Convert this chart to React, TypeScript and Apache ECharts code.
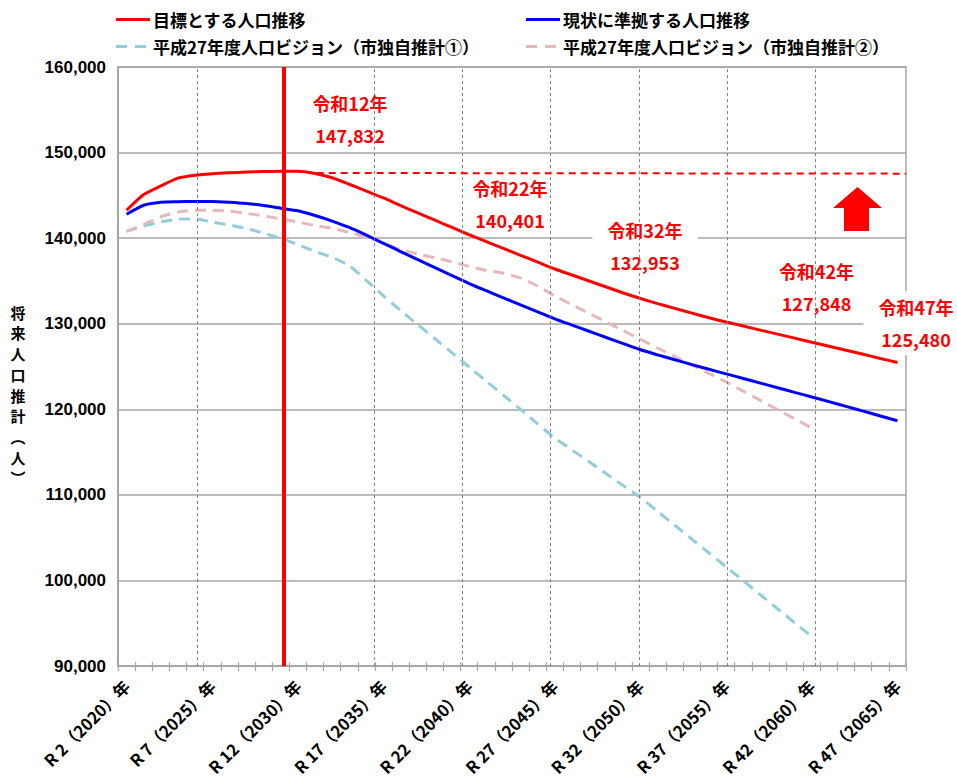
import React, { useEffect, useRef } from 'react';
import * as echarts from 'echarts';

const years = [
  '2020', '2021', '2022', '2023', '2024', '2025', '2026', '2027', '2028', '2029',
  '2030', '2031', '2032', '2033', '2034', '2035', '2036', '2037', '2038', '2039',
  '2040', '2041', '2042', '2043', '2044', '2045', '2046', '2047', '2048', '2049',
  '2050', '2051', '2052', '2053', '2054', '2055', '2056', '2057', '2058', '2059',
  '2060', '2061', '2062', '2063', '2064', '2065',
];

const tickLabels = [
  'R 2（2020）年', 'R 7（2025）年', 'R 12（2030）年', 'R 17（2035）年', 'R 22（2040）年',
  'R 27（2045）年', 'R 32（2050）年', 'R 37（2055）年', 'R 42（2060）年', 'R 47（2065）年',
];

const seriesNames = [
  '目標とする人口推移',
  '現状に準拠する人口推移',
  '平成27年度人口ビジョン（市独自推計①）',
  '平成27年度人口ビジョン（市独自推計②）',
];

// 目標とする人口推移
const targetPop = [
  143260, 145100, 146100, 147010, 147360, 147540, 147650, 147720, 147780, 147810,
  147832, 147560, 147060, 146300, 145500, 144700, 143800, 142950, 142100, 141250,
  140401, 139600, 138800, 138000, 137200, 136400, 135700, 135000, 134300, 133600,
  132953, 132350, 131800, 131250, 130700, 130200, 129730, 129260, 128790, 128320,
  127848, 127380, 126900, 126430, 125950, 125480,
];

// 現状に準拠する人口推移
const currentPop = [
  142800, 143850, 144200, 144260, 144280, 144300, 144200, 144050, 143820, 143500,
  143200, 142650, 142000, 141250, 140350, 139400, 138440, 137500, 136560, 135620,
  134700, 133860, 133030, 132200, 131380, 130580, 129850, 129130, 128400, 127680,
  126960, 126370, 125800, 125230, 124680, 124150, 123610, 123070, 122530, 121990,
  121450, 120900, 120350, 119790, 119230, 118670,
];

// 平成27年度人口ビジョン（市独自推計①）
const vision1 = [
  140800, 141400, 141900, 142220, 142250, 141870, 141540, 141130, 140580, 139990,
  139250, 138440, 137770, 136780, 135050, 133250, 131550, 129900, 128250, 126600,
  124950, 123300, 121650, 120000, 118300, 116650, 115260, 113870, 112480, 111090,
  109700, 108080, 106460, 104840, 103220, 101600, 99970, 98340, 96700, 95070,
  93450, null, null, null, null, null,
];

// 平成27年度人口ビジョン（市独自推計②）
const vision2 = [
  140800, 141600, 142500, 143050, 143250, 143250, 143150, 142900, 142600, 142260,
  141880, 141470, 141150, 140690, 140100, 139400, 138650, 138150, 137700, 137250,
  136700, 136250, 135900, 135350, 134400, 133250, 132230, 131220, 130200, 129190,
  128180, 127170, 126180, 125180, 124190, 123200, 122130, 121050, 119970, 118900,
  117820, null, null, null, null, null,
];

const annotationTexts = [
  ['令和12年', '147,832'],
  ['令和22年', '140,401'],
  ['令和32年', '132,953'],
  ['令和42年', '127,848'],
  ['令和47年', '125,480'],
];

const targetLevel = [147620, 147540];

// decoration layout (helper axis units: category i spans [i, i+1])
const dashedGridAt = [4.61, 9.77, 14.93, 20.09, 25.25, 30.41, 35.57, 40.73];
const redVerticalAt = 9.69;
const annotationPos = [
  [350, 118.5],
  [510, 203.5],
  [645, 246],
  [816.5, 286.5],
  [916, 323],
];

const CJK = '"Noto Sans CJK JP", "Noto Sans", sans-serif';
const SOLID_ICON = 'path://M0,0h34v3h-34z';
const DASH_ICON = 'path://M0,0h11v3h-11z M19,0h11v3h-11z';

export default function App() {
  const ref = useRef<HTMLDivElement>(null);

  useEffect(() => {
    if (!ref.current) return;
    const chart = echarts.init(ref.current, undefined, { renderer: 'svg' });

    const legendCommon = {
      padding: 0,
      itemHeight: 14,
      itemGap: 10,
      selectedMode: false,
    };
    const legendText = (pad: number) => ({
      fontSize: 17, fontWeight: 'bold', color: '#000', fontFamily: CJK, padding: [0, 0, 0, pad],
    });

    const option: any = {
      animation: false,
      backgroundColor: '#fff',
      textStyle: { fontFamily: CJK },
      grid: {
        left: 118, right: 51, top: 67, bottom: 110,
        show: true, borderColor: '#a6a6a6', borderWidth: 1.5, backgroundColor: 'transparent',
      },
      legend: [
        { ...legendCommon, data: [seriesNames[0]], left: 116, top: 11, icon: SOLID_ICON, itemWidth: 34, textStyle: legendText(-2) },
        { ...legendCommon, data: [seriesNames[1]], left: 526, top: 11, icon: SOLID_ICON, itemWidth: 34, textStyle: legendText(-2) },
        { ...legendCommon, data: [seriesNames[2]], left: 116, top: 38, icon: DASH_ICON, itemWidth: 30, textStyle: legendText(2) },
        { ...legendCommon, data: [seriesNames[3]], left: 526, top: 38, icon: DASH_ICON, itemWidth: 30, textStyle: legendText(2) },
      ],
      xAxis: [
        {
          type: 'category',
          data: years,
          boundaryGap: true,
          axisLine: { lineStyle: { color: '#a6a6a6', width: 2 } },
          axisTick: { show: true, interval: 0, length: 5, lineStyle: { color: '#a6a6a6', width: 1.2 } },
          axisLabel: {
            interval: 4,
            rotate: 45,
            margin: 17,
            color: '#000',
            fontSize: 16.5,
            fontWeight: 'bold',
            fontFamily: CJK,
            formatter: (_v: string, idx: number) => (idx % 5 === 0 ? tickLabels[idx / 5] : ''),
          },
          splitLine: { show: false },
        },
        {
          type: 'value',
          min: 0,
          max: 46,
          interval: 1,
          position: 'bottom',
          axisLine: { show: false },
          axisLabel: { show: false },
          splitLine: { show: false },
          axisTick: { show: true, inside: true, length: 4, lineStyle: { color: '#a6a6a6', width: 1.2 } },
        },
      ],
      yAxis: {
        type: 'value',
        min: 90000,
        max: 160000,
        interval: 10000,
        axisLine: { show: true, lineStyle: { color: '#a6a6a6', width: 2 } },
        axisTick: { show: false },
        axisLabel: {
          color: '#000',
          fontSize: 17,
          fontWeight: 'bold',
          fontFamily: '"Liberation Sans", Arial, sans-serif',
          margin: 12,
          formatter: (v: number) => v.toLocaleString('en-US'),
        },
        splitLine: { lineStyle: { color: '#a6a6a6', width: 1.5 } },
      },
      series: [
        {
          type: 'line', xAxisIndex: 1, data: [], z: 1, silent: true, symbol: 'none',
          markLine: {
            silent: true, symbol: 'none', animation: false, label: { show: false },
            lineStyle: { color: '#7f7f7f', type: [3, 3], width: 1 },
            data: dashedGridAt.map((x) => ({ xAxis: x })),
          },
        },
        {
          name: seriesNames[2], type: 'line', data: vision1, symbol: 'none', z: 3, smooth: 0.2,
          lineStyle: { color: '#92cddc', width: 3, type: [11, 7] }, itemStyle: { color: '#92cddc' },
        },
        {
          name: seriesNames[3], type: 'line', data: vision2, symbol: 'none', z: 3, smooth: 0.2,
          lineStyle: { color: '#e6b9b8', width: 3, type: [11, 7] }, itemStyle: { color: '#e6b9b8' },
        },
        {
          name: seriesNames[1], type: 'line', data: currentPop, symbol: 'none', z: 3, smooth: 0.2,
          lineStyle: { color: '#0000ff', width: 3 }, itemStyle: { color: '#0000ff' },
        },
        {
          name: seriesNames[0], type: 'line', data: targetPop, symbol: 'none', z: 3, smooth: 0.2,
          lineStyle: { color: '#ff0000', width: 3 }, itemStyle: { color: '#ff0000' },
        },
        {
          type: 'line', xAxisIndex: 1, data: [], z: 5, silent: true, symbol: 'none',
          markLine: {
            silent: true, symbol: 'none', animation: false, label: { show: false },
            data: [
              { xAxis: redVerticalAt, lineStyle: { color: '#ff0000', width: 4, type: 'solid' } },
              [
                { coord: [11.6, targetLevel[0]], lineStyle: { color: '#ff0000', width: 2, type: [7, 5] } },
                { coord: [46, targetLevel[1]] },
              ],
            ],
          },
        },
      ],
      graphic: [
        {
          type: 'text', x: 18, y: 395, z: 10,
          style: {
            text: '将\n来\n人\n口\n推\n計\n︵\n人\n︶',
            font: `bold 15px ${CJK}`, fill: '#000', align: 'center', verticalAlign: 'middle', lineHeight: 20.7,
          },
        },
        ...annotationTexts.map((t, i) => ({
          type: 'text', x: annotationPos[i][0], y: annotationPos[i][1], z: 2,
          style: {
            text: t.join('\n'),
            font: `bold 18px ${CJK}`, fill: '#ff0000', align: 'center', verticalAlign: 'middle',
            lineHeight: 32, backgroundColor: '#fff', padding: [0, 15],
          },
        })),
        {
          type: 'polygon', z: 3,
          shape: {
            points: [[833, 208], [857.5, 187], [882, 208], [869, 208], [869, 231], [844, 231], [844, 208]],
          },
          style: { fill: '#ff0000' },
        },
      ],
    };

    chart.setOption(option);
    return () => chart.dispose();
  }, []);

  return (
    <div
      ref={ref}
      style={{ position: 'absolute', left: 0, top: 0, width: 957, height: 778, background: '#fff' }}
    />
  );
}
